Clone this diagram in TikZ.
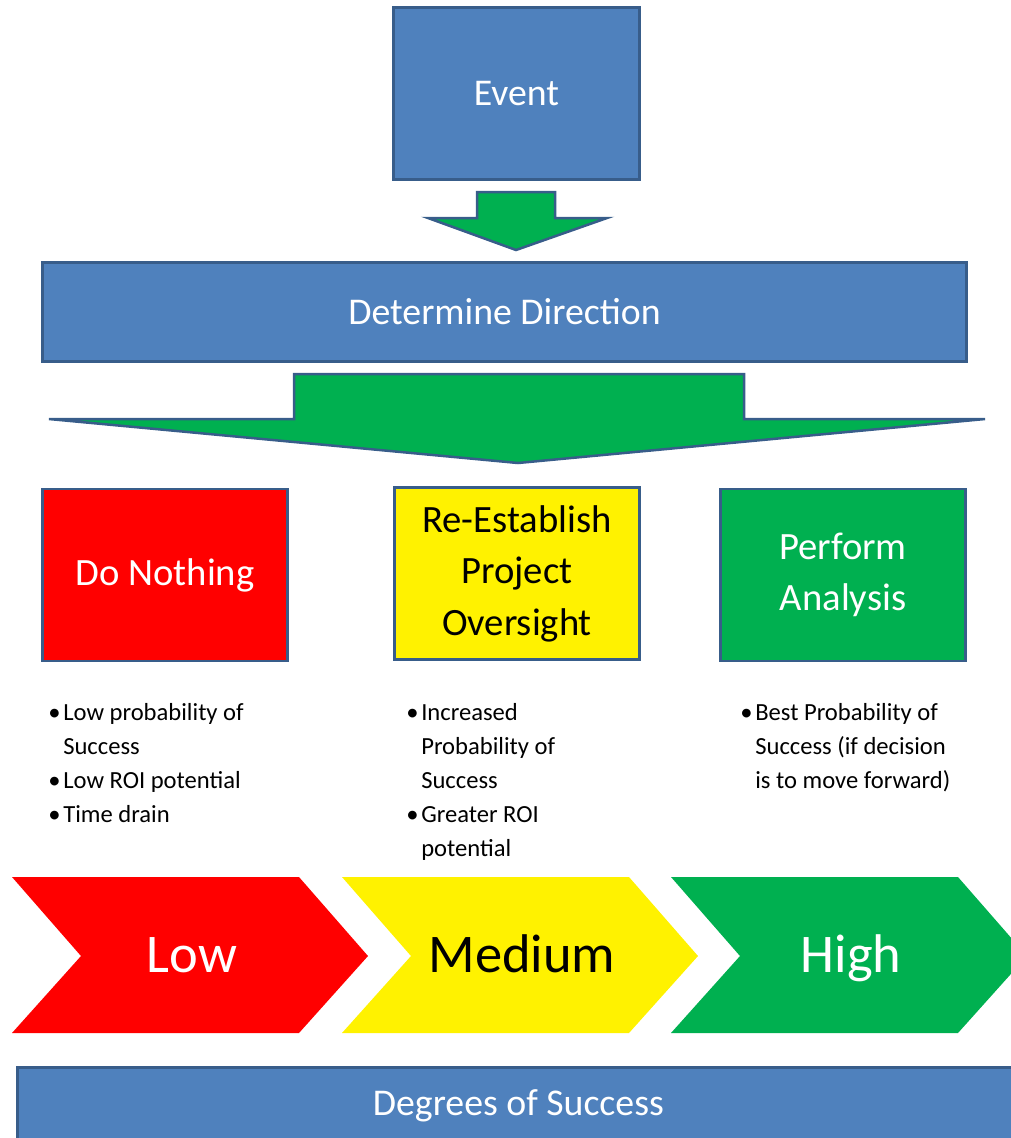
\documentclass[tikz,border=0pt]{standalone}
\usepackage{fontspec}
\setmainfont{Carlito}
\usetikzlibrary{positioning, calc}

\definecolor{bluefill}{HTML}{4F81BD}
\definecolor{blueline}{HTML}{385D8A}
\definecolor{grn}{HTML}{00B050}
\newcommand{\bul}{\makebox[8.5pt][l]{\textbullet}}
\newcommand{\ind}{\hspace*{8.5pt}}

\begin{document}
\begin{tikzpicture}[
    x=0.2mm, y=-0.2mm,
    blk/.style={draw=blueline, fill=bluefill, line width=0.55mm, text=white,
                font=\fontsize{21.5}{26}\selectfont, inner sep=0pt},
    opt/.style={draw=blueline, line width=0.55mm, minimum width=49mm,
                minimum height=34.4mm, align=center, inner sep=0pt,
                font=\fontsize{22}{29.3}\selectfont},
    arr/.style={draw=blueline, fill=grn, line width=0.5mm},
    note/.style={anchor=north west, inner sep=0pt, align=left,
                 font=\fontsize{14}{19.3}\selectfont},
    chev/.style={anchor=base, font=\fontsize{31}{36}\selectfont},
]
\useasboundingbox (0,0) rectangle (1011,1138);
\clip (0,0) rectangle (1011,1138);
% --- event and direction -------------------------------------------------
\node[blk, minimum width=49.2mm, minimum height=34.4mm] (event) at (516.5,93.5) {Event};
\draw[arr] (477,192) -- (555,192) -- (555,218) -- (607,218) -- (516,250)
           -- (428,218) -- (477,218) -- cycle;
\node[blk, minimum width=184.8mm, minimum height=19.8mm] (direction) at (504.5,312)
     {Determine Direction};
\draw[arr] (294,374) -- (744,374) -- (744,419) -- (985,419) -- (518,463)
           -- (49,419) -- (294,419) -- cycle;
% --- the three options ----------------------------------------------------
\node[opt, fill=red, text=white] (nothing)   at (165,575) {Do Nothing};
\node[opt, fill=yellow]          (oversight) at (517,573.5) {Re-Establish\\Project\\Oversight};
\node[opt, fill=grn, text=white] (analysis)  at (843,575) {Perform\\Analysis};
\node[note] (lownote) at (48,703)
     {\bul Low probability of\\\ind Success\\\bul Low ROI potential\\\bul Time drain};
\node[note] (midnote) at (406,703)
     {\bul Increased\\\ind Probability of\\\ind Success\\\bul Greater ROI\\\ind potential};
\node[note] (highnote) at (740,703)
     {\bul Best Probability of\\\ind Success (if decision\\\ind is to move forward)};
% --- degrees of success ---------------------------------------------------
\foreach \x/\c/\t/\lab/\n in {12/red/white/Low/low, 342/yellow/black/Medium/medium,
                              671/grn/white/High/high} {
  \fill[\c] (\x,877) -- ++(287,0) -- ++(69,79) -- ++(-69,77) -- ++(-287,0)
            -- ++(69,-77) -- cycle;
  \node[chev, text=\t] (\n) at (\x+180,972) {\lab};
}
\node[blk, anchor=north west, minimum width=200.4mm, minimum height=15.2mm] (degrees)
     at (16,1066) {Degrees of Success};
\end{tikzpicture}
\end{document}
